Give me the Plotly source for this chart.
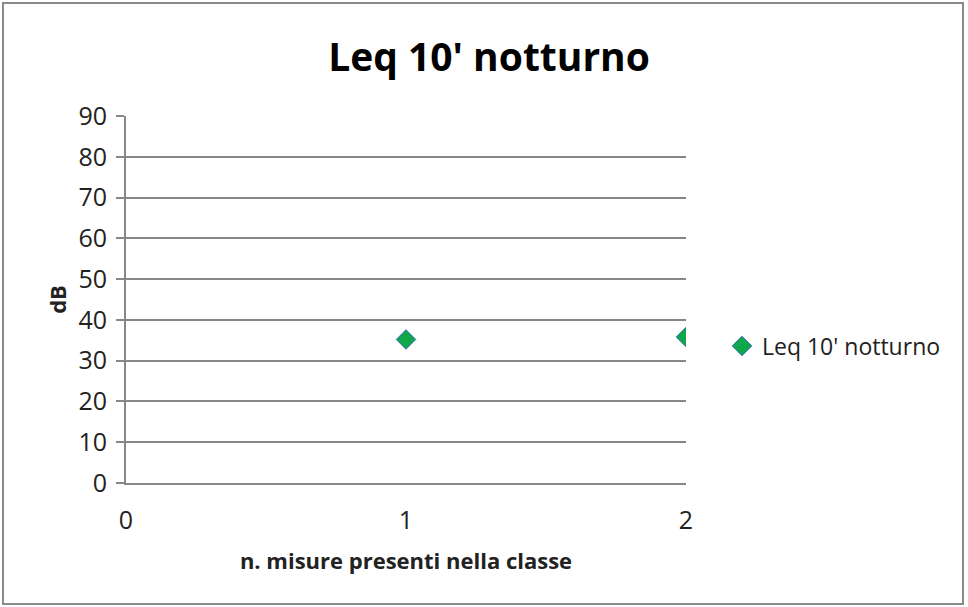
import plotly.graph_objects as go

x_vals = [1, 2]
y_vals = [35.2, 35.8]
series_name = "Leq 10' notturno"
y_ticks = [0, 10, 20, 30, 40, 50, 60, 70, 80, 90]
x_ticks = [0, 1, 2]

font = "Open Sans"
grey = "#878787"

fig = go.Figure()
fig.add_trace(go.Scatter(
    x=x_vals, y=y_vals, mode="markers", name=series_name,
    marker=dict(symbol="diamond", size=15, color="#10a64a",
                line=dict(color="#2f6fb8", width=1)),
))

L, R, T, B = 126, 282, 116, 124
W, H = 968 - L - R, 607 - T - B

fig.update_layout(
    width=968, height=607,
    margin=dict(l=L, r=R, t=T, b=B),
    paper_bgcolor="white", plot_bgcolor="white",
    font=dict(family=font, size=25, color="#222"),
    title=dict(text="<b>Leq 10' notturno</b>", x=(489 - L) / W, xref="paper",
               xanchor="center", y=1 - 57 / 607, yanchor="middle",
               font=dict(size=39, color="black")),
    showlegend=True,
    legend=dict(x=(722 - L) / W, y=(483 - 346) / H, xanchor="left", yanchor="middle",
                font=dict(size=23, color="#222"), bgcolor="rgba(0,0,0,0)",
                itemsizing="trace"),
    xaxis=dict(range=[0, 2], tickvals=x_ticks, showgrid=False,
               showline=True, linecolor=grey, linewidth=2, zeroline=False,
               ticks="", ticklabelstandoff=14,
               title=dict(text="<b>n. misure presenti nella classe</b>",
                          font=dict(size=22, color="#222"), standoff=19)),
    yaxis=dict(range=[0, 90], tickvals=y_ticks, showgrid=True, gridcolor=grey,
               gridwidth=2, showline=True, linecolor=grey, linewidth=2,
               zeroline=False, ticks="outside", ticklen=8, tickcolor=grey,
               tickwidth=2, ticklabelstandoff=4,
               title=dict(text="<b>dB</b>", font=dict(size=22, color="#222"),
                          standoff=6)),
    shapes=[dict(type="rect", xref="paper", yref="paper",
                 x0=(3 - L) / W, x1=(963 - L) / W,
                 y0=(483 - 604) / H, y1=(483 - 3) / H,
                 line=dict(color="#8a8a8a", width=2), layer="below")],
)

fig.write_html("out.html", config={"displayModeBar": False},
               post_script="document.body.style.margin='0';")
